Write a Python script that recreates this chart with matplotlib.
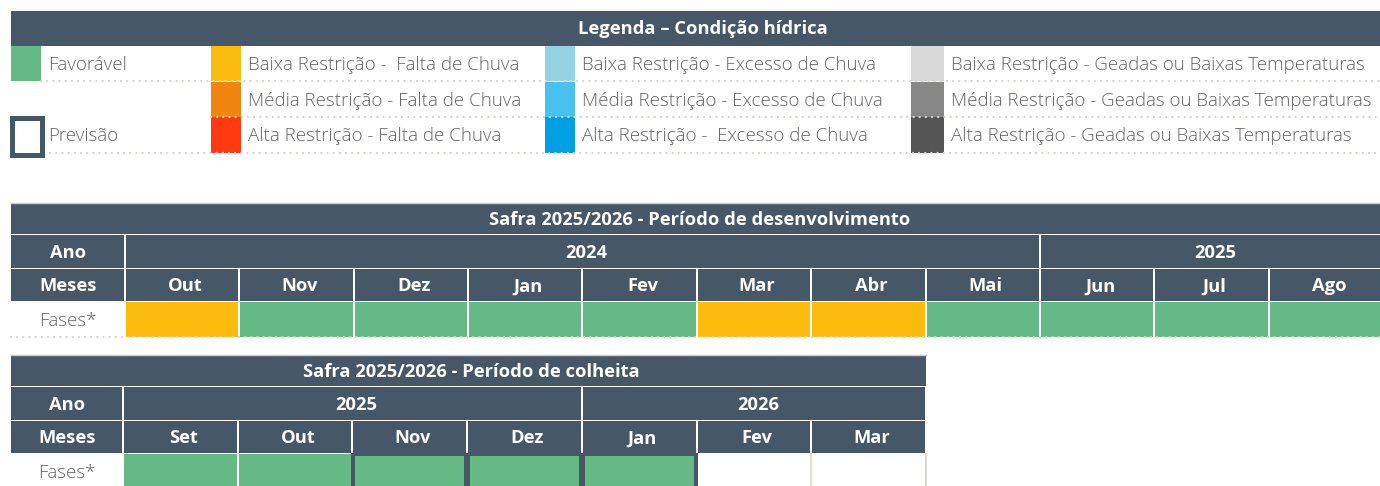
import matplotlib
matplotlib.use("Agg")
import matplotlib.pyplot as plt
from matplotlib.patches import Rectangle

plt.rcParams["font.family"] = ["Open Sans", "DejaVu Sans"]

HEADER = "#465867"
TEXT_GREY = "#656565"
DOT = "#d8d4c8"

# condition colours
cond_colors = {
    "fav": "#64b985",
    "baixa_seca": "#fbbc0e",
    "media_seca": "#f0860f",
    "alta_seca": "#ff3a10",
    "baixa_chuva": "#93d3e4",
    "media_chuva": "#48c1ef",
    "alta_chuva": "#009fe3",
    "baixa_geada": "#d9d9d9",
    "media_geada": "#878787",
    "alta_geada": "#555555",
}

legend_title = "Legenda – Condição hídrica"
legend_cols = [
    [("fav", "Favorável"), (None, None), ("prev", "Previsão")],
    [("baixa_seca", "Baixa Restrição -  Falta de Chuva"),
     ("media_seca", "Média Restrição - Falta de Chuva"),
     ("alta_seca", "Alta Restrição - Falta de Chuva")],
    [("baixa_chuva", "Baixa Restrição - Excesso de Chuva"),
     ("media_chuva", "Média Restrição - Excesso de Chuva"),
     ("alta_chuva", "Alta Restrição -  Excesso de Chuva")],
    [("baixa_geada", "Baixa Restrição - Geadas ou Baixas Temperaturas"),
     ("media_geada", "Média Restrição - Geadas ou Baixas Temperaturas"),
     ("alta_geada", "Alta Restrição - Geadas ou Baixas Temperaturas")],
]

dev_title = "Safra 2025/2026 - Período de desenvolvimento"
dev_months = ["Out", "Nov", "Dez", "Jan", "Fev", "Mar", "Abr", "Mai", "Jun", "Jul", "Ago"]
dev_years = [("2024", 8), ("2025", 3)]
dev_phase = ["baixa_seca", "fav", "fav", "fav", "fav", "baixa_seca", "baixa_seca",
             "fav", "fav", "fav", "fav"]
dev_forecast = [False] * 11

harv_title = "Safra 2025/2026 - Período de colheita"
harv_months = ["Set", "Out", "Nov", "Dez", "Jan", "Fev", "Mar"]
harv_years = [("2025", 4), ("2026", 3)]
harv_phase = ["fav", "fav", "fav", "fav", "fav", None, None]
harv_forecast = [False, False, True, True, True, False, False]

W, H = 1380, 486
fig = plt.figure(figsize=(W / 100, H / 100), dpi=100)
ax = fig.add_axes([0, 0, 1, 1])
ax.set_xlim(0, W)
ax.set_ylim(H, 0)
ax.axis("off")

BOLD_SIZE = 13.2
LIGHT_SIZE = 13.5

def rect(x, y, w, h, fc, ec="none", lw=0, z=1):
    ax.add_patch(Rectangle((x, y), w, h, facecolor=fc, edgecolor=ec, linewidth=lw, zorder=z))

def hdr_text(x, y, s, size=BOLD_SIZE):
    ax.text(x, y + 1.5, s, color="white", fontsize=size, fontweight="bold",
            ha="center", va="center", zorder=5)

def dotted(x0, x1, y):
    ax.plot([x0, x1], [y, y], color=DOT, lw=1.7, linestyle=(0, (0.01, 2.6)),
            dash_capstyle="round", zorder=3)

# ---- legend ----
rect(11, 11, W - 11, 35, HEADER)
hdr_text(703, 28, legend_title)
row_tops = [46, 82, 117]
row_h = 35.5
col_x = [11, 211, 545, 911]
sw_w = [30, 30, 30, 33]
for ci, col in enumerate(legend_cols):
    for ri, (key, label) in enumerate(col):
        if key is None:
            continue
        y = row_tops[ri]
        x = col_x[ci]
        if key == "prev":
            ax.add_patch(Rectangle((11.5, y + 1), 30, row_h + 1, facecolor="white",
                                   edgecolor=HEADER, linewidth=3.6, zorder=4))
        else:
            rect(x, y, sw_w[ci], row_h, cond_colors[key], z=2)
        ax.text(x + sw_w[ci] + 7, y + row_h / 2 + 1.5, label, color=TEXT_GREY,
                fontsize=LIGHT_SIZE, fontweight="light", ha="left", va="center", zorder=5)
dotted(41, W, 81)
dotted(211, W, 117)
dotted(44, W, 153)

# ---- tables ----
def draw_table(top, x0, x1, first_w, title, months, years, phase, forecast):
    hh, rh, fh = 31, 32.5, 35
    n = len(months)
    cw = (x1 - x0 - first_w) / n
    mx0 = x0 + first_w
    rect(x0, top, x1 - x0, hh, HEADER)
    ax.plot([x0, x1], [top, top], color="#c9ccd0", lw=1, zorder=3)
    hdr_text((x0 + x1) / 2 + 3, top + hh / 2, title)
    y_ano = top + hh + 1
    y_mes = y_ano + rh + 1
    y_fas = y_mes + rh + 1
    # first column labels
    rect(x0, y_ano, first_w - 1, rh, HEADER)
    hdr_text(x0 + first_w / 2, y_ano + rh / 2, "Ano")
    rect(x0, y_mes, first_w - 1, rh, HEADER)
    hdr_text(x0 + first_w / 2, y_mes + rh / 2, "Meses")
    ax.text(x0 + first_w / 2, y_fas + fh / 2 + 1.5, "Fases*", color=TEXT_GREY,
            fontsize=LIGHT_SIZE, fontweight="light", ha="center", va="center")
    dotted(x0, x1, y_fas + fh)
    # years
    start = 0
    for label, span in years:
        xs = mx0 + start * cw
        rect(xs + 1, y_ano, span * cw - 2, rh, HEADER)
        hdr_text(xs + span * cw / 2 + 4, y_ano + rh / 2, label)
        start += span
    # months + phases
    for i, m in enumerate(months):
        xs = mx0 + i * cw
        rect(xs + 1, y_mes, cw - 2, rh, HEADER)
        hdr_text(xs + cw / 2 + 3, y_mes + rh / 2, m)
        if forecast[i]:
            rect(xs - 1, y_fas - 1, cw + 2, fh + 2, HEADER, z=1)
            rect(xs + 3, y_fas + 2, cw - 6, fh, cond_colors[phase[i]], z=2)
        elif phase[i] is not None:
            rect(xs + 1, y_fas, cw - 2, fh, cond_colors[phase[i]], z=2)
        else:
            ax.plot([xs + cw, xs + cw], [y_fas, y_fas + fh], color="#dedbd2", lw=1.5, zorder=2)

draw_table(203, 11, 1383, 114, dev_title, dev_months, dev_years, dev_phase, dev_forecast)
draw_table(355, 11, 926, 112, harv_title, harv_months, harv_years, harv_phase, harv_forecast)

fig.savefig("out.png", dpi=100)
